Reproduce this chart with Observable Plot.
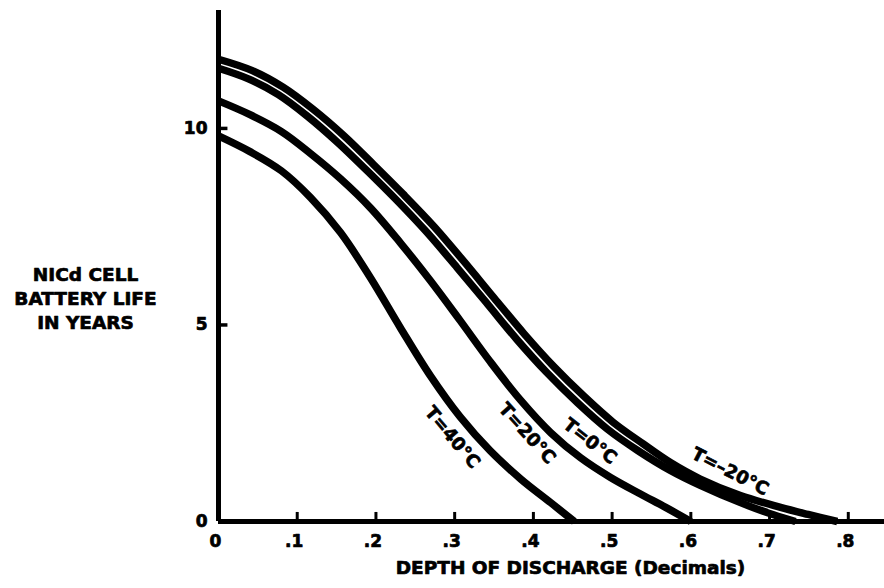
<!DOCTYPE html>
<html>
<head>
<meta charset="utf-8">
<script src="https://cdn.jsdelivr.net/npm/d3@7"></script>
<script src="https://cdn.jsdelivr.net/npm/@observablehq/plot@0.6"></script>
<style>
  body { margin: 0; background: #fff; }
  #chart svg { display: block; }
</style>
</head>
<body>
<div id="chart"></div>
<script>
// ---- data ----
const seriesNames = ["T=40°C", "T=20°C", "T=0°C", "T=–20°C"];

const depth40 = [0, 0.04, 0.08, 0.117, 0.155, 0.193, 0.231, 0.269, 0.307, 0.345, 0.384, 0.422, 0.452];
const life40  = [9.81, 9.41, 8.92, 8.24, 7.35, 6.20, 4.93, 3.71, 2.66, 1.80, 1.08, 0.48, 0];

const depth20 = [0, 0.04, 0.08, 0.117, 0.155, 0.193, 0.231, 0.269, 0.307, 0.345, 0.384, 0.422, 0.46, 0.498, 0.536, 0.568, 0.6];
const life20  = [10.70, 10.35, 9.92, 9.36, 8.72, 7.98, 7.09, 6.13, 5.11, 4.07, 3.08, 2.26, 1.62, 1.12, 0.70, 0.36, 0];

const depth0 = [0, 0.038, 0.076, 0.113, 0.151, 0.189, 0.227, 0.265, 0.303, 0.341, 0.379, 0.417, 0.456, 0.494, 0.533, 0.574, 0.612, 0.663, 0.705, 0.733];
const life0  = [11.53, 11.26, 10.86, 10.31, 9.65, 8.92, 8.16, 7.35, 6.46, 5.55, 4.63, 3.79, 3.02, 2.35, 1.80, 1.30, 0.92, 0.48, 0.17, 0];

const depthM20 = [0, 0.043, 0.082, 0.120, 0.159, 0.197, 0.235, 0.274, 0.312, 0.350, 0.388, 0.426, 0.464, 0.501, 0.539, 0.574, 0.612, 0.663, 0.714, 0.749, 0.786];
const lifeM20  = [11.76, 11.47, 11.05, 10.49, 9.82, 9.08, 8.32, 7.50, 6.61, 5.69, 4.78, 3.94, 3.19, 2.53, 1.98, 1.50, 1.08, 0.66, 0.36, 0.18, 0];

// curve label placement (data units) and rotation
const labelX = [0.297, 0.392, 0.472, 0.650];
const labelY = [2.14, 2.24, 2.04, 1.27];
const labelAngle = [50, 48, 38, 27];

const xTicks = [0, 0.1, 0.2, 0.3, 0.4, 0.5, 0.6, 0.7, 0.8];
const xTickLabels = ["0", ".1", ".2", ".3", ".4", ".5", ".6", ".7", ".8"];
const yTicks = [0, 5, 10];
const yTickLabels = ["0", "5", "10"];

const xTitle = "DEPTH OF DISCHARGE (Decimals)";
const yTitle = "NICd CELL\nBATTERY LIFE\nIN YEARS";

// ---- build tables ----
const allDepths = [depth40, depth20, depth0, depthM20];
const allLives = [life40, life20, life0, lifeM20];
const rows = [];
seriesNames.forEach((s, i) => {
  allDepths[i].forEach((d, j) => rows.push({series: s, x: d, y: allLives[i][j]}));
});
const labels = seriesNames.map((s, i) => ({t: s, x: labelX[i], y: labelY[i], r: labelAngle[i]}));
const xt = xTicks.map((v, i) => ({v, t: xTickLabels[i]}));
const yt = yTicks.map((v, i) => ({v, t: yTickLabels[i]}));

const font = "DejaVu Sans, Liberation Sans, sans-serif";
const textStyle = {fill: "black", stroke: "black", strokeWidth: 0.7, fontWeight: "bold", fontFamily: font};

const chart = Plot.plot({
  width: 884,
  height: 588,
  marginLeft: 218,
  marginRight: 0,
  marginTop: 10,
  marginBottom: 67,
  x: {domain: [0, 0.846], axis: null},
  y: {domain: [0, 13], axis: null},
  style: {fontFamily: font, background: "white"},
  marks: [
    Plot.line(rows, {x: "x", y: "y", z: "series", stroke: "black", strokeWidth: 7.5, curve: "catmull-rom", strokeLinecap: "butt"}),
    Plot.ruleX([0], {stroke: "black", strokeWidth: 5}),
    Plot.ruleY([0], {stroke: "black", strokeWidth: 5}),
    Plot.ruleX(xTicks.slice(1), {y1: 0, y2: 0.23, stroke: "black", strokeWidth: 3}),
    Plot.ruleY(yTicks.slice(1), {x1: 0, x2: 0.012, stroke: "black", strokeWidth: 3.5}),
    Plot.text(xt, {x: "v", y: 0, text: "t", dy: 20, dx: -3, fontSize: 17, ...textStyle}),
    Plot.text(yt, {x: 0, y: "v", text: "t", dx: -11, textAnchor: "end", fontSize: 17, ...textStyle}),
    Plot.text(labels, {x: "x", y: "y", text: "t", rotate: "r", fontSize: 18, ...textStyle}),
    Plot.text([xTitle], {frameAnchor: "bottom", dx: 19, dy: 52, fontSize: 18.5, ...textStyle}),
    Plot.text([yTitle], {frameAnchor: "left", dx: -133, dy: 31, textAnchor: "middle", lineHeight: 1.3, fontSize: 18.5, ...textStyle})
  ]
});
document.getElementById("chart").appendChild(chart);
</script>
</body>
</html>
